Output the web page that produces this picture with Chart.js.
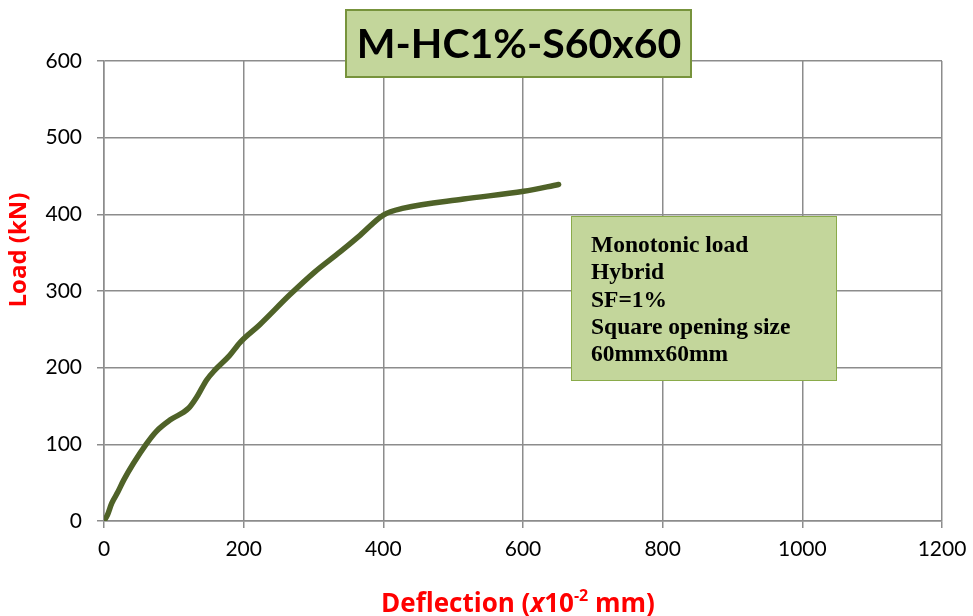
<!DOCTYPE html>
<html>
<head>
<meta charset="utf-8">
<script src="https://cdn.jsdelivr.net/npm/chart.js"></script>
<style>
  html, body { margin: 0; padding: 0; background: #fff; }
  #wrap { width: 973px; height: 616px; position: relative; }
</style>
</head>
<body>
<div id="wrap"><canvas id="myChart" width="973" height="616"></canvas></div>
<script>
// Values
const deflection = [0, 5, 11, 20, 28, 42, 61, 75, 95, 121, 133, 147, 159, 180, 195, 223, 266, 302, 338, 367, 400, 429, 515, 601, 651];
const load = [0, 8, 23, 38, 53, 75, 101, 117, 132, 147, 162, 184, 197, 216, 233, 256, 295, 325, 351, 373, 399, 408, 420, 430, 439];
const xTicks = [0, 200, 400, 600, 800, 1000, 1200];
const yTicks = [0, 100, 200, 300, 400, 500, 600];
const chartTitle = 'M-HC1%-S60x60';
const noteLines = ['Monotonic load', 'Hybrid', 'SF=1%', 'Square opening size', '60mmx60mm'];

const gridColor = '#8c8c8c';

// Draws the title box, the note box and the axis titles
const decorations = {
  id: 'decorations',
  afterDraw(chart) {
    const c = chart.ctx;
    c.save();

    // note box
    c.fillStyle = '#c3d69b';
    c.strokeStyle = '#8aab4a';
    c.lineWidth = 1;
    c.fillRect(571, 216, 265, 164);
    c.strokeRect(571.5, 216.5, 265, 164);
    c.fillStyle = '#000';
    c.font = 'bold 23.5px "Liberation Serif"';
    c.textAlign = 'left';
    c.textBaseline = 'alphabetic';
    noteLines.forEach((t, i) => c.fillText(t, 591, 252 + i * 27.3));

    // title box
    c.fillStyle = '#c3d69b';
    c.strokeStyle = '#77933c';
    c.lineWidth = 2;
    c.fillRect(346, 10, 345, 67);
    c.strokeRect(346, 10, 345, 67);
    c.fillStyle = '#000';
    c.font = 'bold 41px Lato';
    c.textAlign = 'center';
    c.textBaseline = 'middle';
    c.fillText(chartTitle, 519, 45);

    // y axis title
    c.fillStyle = '#ff0000';
    c.font = 'bold 24px "Open Sans"';
    c.translate(19, 250);
    c.rotate(-Math.PI / 2);
    c.textAlign = 'center';
    c.textBaseline = 'middle';
    c.fillText('Load (kN)', 0, 0);
    c.setTransform(1, 0, 0, 1, 0, 0);

    // x axis title with italic x and superscript
    const parts = [
      { t: 'Deflection (', f: 'bold 26px "Open Sans"', dy: 0 },
      { t: 'x', f: 'italic bold 26px "Open Sans"', dy: 0 },
      { t: '10', f: 'bold 26px "Open Sans"', dy: 0 },
      { t: '-2', f: 'bold 16px "Open Sans"', dy: -11 },
      { t: ' mm)', f: 'bold 26px "Open Sans"', dy: 0 }
    ];
    let total = 0;
    parts.forEach(p => { c.font = p.f; p.w = c.measureText(p.t).width; total += p.w; });
    let x = 518 - total / 2;
    c.textAlign = 'left';
    c.textBaseline = 'alphabetic';
    parts.forEach(p => { c.font = p.f; c.fillText(p.t, x, 612 + p.dy); x += p.w; });

    c.restore();
  }
};

const ctx = document.getElementById('myChart').getContext('2d');
const myChart = new Chart(ctx, {
  type: 'scatter',
  data: {
    datasets: [{
      data: deflection.map((d, i) => ({ x: d, y: load[i] })),
      showLine: true,
      borderColor: '#4f6228',
      borderWidth: 5.5,
      pointRadius: 0,
      cubicInterpolationMode: 'monotone',
      borderCapStyle: 'round',
      borderJoinStyle: 'round'
    }]
  },
  options: {
    responsive: false,
    animation: false,
    layout: { padding: { top: 61, right: 31, left: 0, bottom: 0 } },
    plugins: { legend: { display: false }, tooltip: { enabled: false } },
    scales: {
      x: {
        type: 'linear',
        min: xTicks[0],
        max: xTicks[xTicks.length - 1],
        afterBuildTicks: s => { s.ticks = xTicks.map(v => ({ value: v })); },
        afterFit: s => { s.height = 95; s.paddingRight = 0; s.paddingLeft = 0; },
        grid: { color: gridColor, lineWidth: 1.5, tickLength: 7, drawTicks: true },
        border: { color: gridColor, width: 1.5 },
        ticks: { color: '#000', font: { family: 'Lato', size: 21 }, padding: 9, maxRotation: 0, callback: v => String(v) }
      },
      y: {
        type: 'linear',
        min: yTicks[0],
        max: yTicks[yTicks.length - 1],
        afterBuildTicks: s => { s.ticks = yTicks.map(v => ({ value: v })); },
        afterFit: s => { s.width = 104; s.paddingTop = 0; s.paddingBottom = 0; },
        grid: { color: gridColor, lineWidth: 1.5, tickLength: 7, drawTicks: true },
        border: { color: gridColor, width: 1.5 },
        ticks: { color: '#000', font: { family: 'Lato', size: 21 }, padding: 15, callback: v => String(v) }
      }
    }
  },
  plugins: [decorations]
});
</script>
</body>
</html>
